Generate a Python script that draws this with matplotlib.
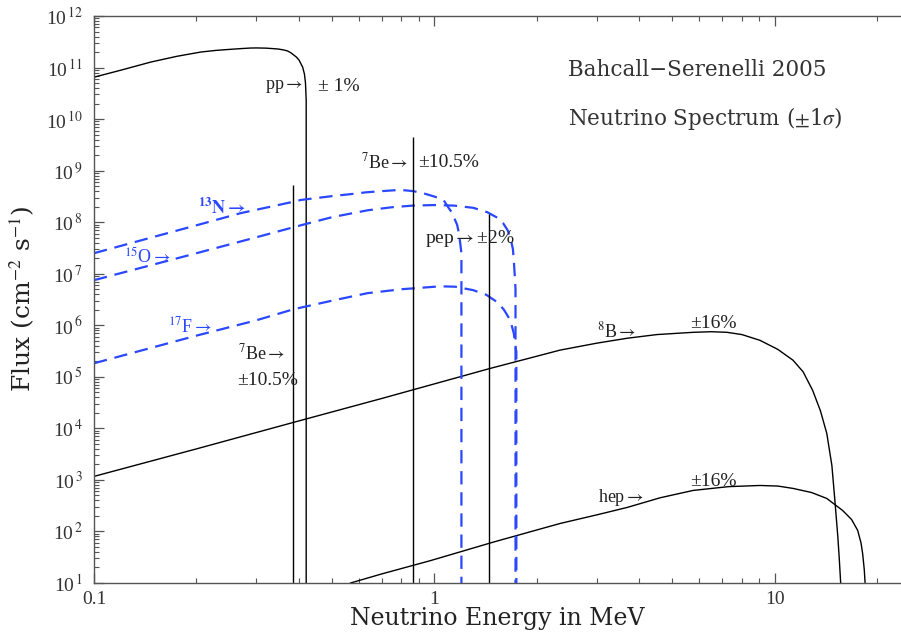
import math
import matplotlib
matplotlib.use('Agg')
import matplotlib.pyplot as plt
from matplotlib.ticker import LogLocator, FixedLocator, FuncFormatter, NullFormatter

plt.rcParams['font.family'] = ['Liberation Serif', 'DejaVu Serif']
plt.rcParams['mathtext.fontset'] = 'stix'

# spectra (MeV, cm^-2 s^-1)
pp_E = [0.1, 0.12, 0.147, 0.175, 0.206, 0.228, 0.25, 0.27, 0.288, 0.30, 0.32, 0.335, 0.347,
        0.36, 0.37, 0.378, 0.386, 0.393, 0.40, 0.410, 0.415, 0.418, 0.420, 0.420]
pp_flux = [6.5e10, 8.9e10, 1.28e11, 1.65e11, 2.0e11, 2.15e11, 2.25e11, 2.33e11, 2.39e11, 2.40e11,
           2.38e11, 2.33e11, 2.29e11, 2.2e11, 2.1e11, 1.95e11, 1.75e11, 1.6e11, 1.4e11, 1.02e11,
           7.5e10, 5.0e10, 2.3e10, 10]

n13_E = [0.1, 0.15, 0.2, 0.27, 0.386, 0.405, 0.5, 0.567, 0.63, 0.7, 0.778, 0.82, 0.866, 0.92,
         0.99, 1.03, 1.063, 1.10, 1.12, 1.14, 1.165, 1.18, 1.19, 1.2, 1.2]
n13_flux = [2.5e7, 5.2e7, 8.7e7, 1.5e8, 2.5e8, 2.7e8, 3.2e8, 3.5e8, 3.8e8, 4.0e8, 4.2e8, 4.15e8,
            4.0e8, 3.7e8, 3.2e8, 2.95e8, 2.7e8, 1.9e8, 1.6e8, 1.25e8, 9e7, 6.1e7, 4e7, 2.5e7, 10]

o15_E = [0.1, 0.2, 0.3, 0.386, 0.405, 0.5, 0.636, 0.75, 0.866, 1.0, 1.14, 1.3, 1.43, 1.52,
         1.59, 1.64, 1.67, 1.70, 1.71, 1.72, 1.73, 1.73]
o15_flux = [7.5e6, 2.5e7, 5.1e7, 8.0e7, 8.7e7, 1.25e8, 1.7e8, 1.95e8, 2.1e8, 2.15e8, 2.1e8,
            1.9e8, 1.56e8, 1.25e8, 9.6e7, 7e7, 5.1e7, 3e7, 1.8e7, 1e7, 5e6, 10]

f17_E = [0.1, 0.2, 0.3, 0.386, 0.5, 0.636, 0.8, 1.04, 1.15, 1.30, 1.42, 1.53, 1.60, 1.67,
         1.71, 1.725, 1.74, 1.74]
f17_flux = [1.83e5, 6.3e5, 1.25e6, 2.05e6, 3.0e6, 4.2e6, 5.0e6, 5.7e6, 5.6e6, 4.8e6, 3.9e6,
            2.8e6, 2.0e6, 1.25e6, 7e5, 4.5e5, 3e5, 10]

b8_E = [0.1, 0.2, 0.386, 0.7, 1.0, 1.46, 1.9, 2.34, 3.0, 3.68, 4.5, 5.75, 6.5, 7.23, 8.0, 9.04,
        10.2, 11.3, 12.1, 12.9, 13.6, 14.2, 14.7, 15.0, 15.3, 15.45, 15.6]
b8_flux = [1.17e3, 4.0e3, 1.31e4, 3.8e4, 7.3e4, 1.46e5, 2.3e5, 3.3e5, 4.5e5, 5.6e5, 6.6e5, 7.3e5,
           7.5e5, 7.3e5, 6.6e5, 5.1e5, 3.4e5, 2.1e5, 1.25e5, 5.5e4, 2.2e4, 8e3, 1.9e3, 400, 80, 30, 10]

hep_E = [0.567, 0.7, 0.97, 1.5, 2.34, 3.0, 3.68, 4.6, 5.75, 7.3, 9.04, 10.2, 11.3, 12.8, 14.2,
         15.8, 16.8, 17.5, 17.9, 18.1, 18.3, 18.4]
hep_flux = [10, 15, 27, 63, 143, 210, 292, 450, 625, 740, 780, 760, 684, 570, 437, 256, 170,
            105, 60, 37, 18, 10]

# monoenergetic lines: 7Be (0.384), 7Be (0.862), pep
line_E = [0.384, 0.862, 1.442]
line_flux = [5.2e8, 4.5e9, 1.43e8]

y_decades = [10.0 ** k for k in range(1, 13)]
x_labelled = [0.1, 1, 10]

blue = '#2a48ff'
tc = '#222222'
wide = ['DejaVu Serif']

fig = plt.figure(figsize=(9.01, 6.35), dpi=100)
ax = fig.add_axes([94/901, 1-583/635, 806/901, 567/635])

ax.plot(pp_E, pp_flux, color='black', lw=1.0)
ax.plot(b8_E, b8_flux, color='black', lw=1.0)
ax.plot(hep_E, hep_flux, color='black', lw=1.0)
for E, f in [(n13_E, n13_flux), (o15_E, o15_flux), (f17_E, f17_flux)]:
    ax.plot(E, f, color=blue, lw=1.6, dashes=(6, 3.5))
ax.vlines(line_E, 10, line_flux, color='black', lw=1.0)

ax.set_xscale('log')
ax.set_yscale('log')
ax.set_xlim(0.1, 23.3)
ax.set_ylim(10, 1e12)

ax.spines['right'].set_visible(False)
ax.xaxis.set_major_locator(FixedLocator(x_labelled))
ax.xaxis.set_major_formatter(FuncFormatter(lambda v, p: '%g' % v))
ax.xaxis.set_minor_locator(LogLocator(base=10, subs=range(2, 10)))
ax.xaxis.set_minor_formatter(NullFormatter())
ax.yaxis.set_major_locator(FixedLocator(y_decades))
ax.yaxis.set_major_formatter(FuncFormatter(
    lambda v, p: r'$\mathregular{10}^{\,%d}$' % round(math.log10(v))))
ax.yaxis.set_minor_locator(LogLocator(base=10, subs=range(2, 10), numticks=20))
ax.yaxis.set_minor_formatter(NullFormatter())
ax.tick_params(which='both', direction='in', top=True, right=False, color='#555555')
ax.tick_params(which='major', length=7, width=0.9, labelsize=14, labelcolor='#333333')
ax.tick_params(which='minor', length=3.5, width=0.8)
ax.tick_params(axis='y', which='major', pad=8)
ax.tick_params(axis='x', which='major', pad=6)
for s in ['left', 'bottom', 'top']:
    ax.spines[s].set_color('#555555')
    ax.spines[s].set_linewidth(1.0)

ax.set_xlabel('Neutrino Energy in MeV', fontsize=17, family=wide, color=tc, va='baseline')
ax.xaxis.set_label_coords(0.5, -(625 - 583) / 567)
ax.set_ylabel(r'Flux (cm$^{-2}$ s$^{-1}$)', fontsize=18, family=wide, color=tc, va='center')
ax.yaxis.set_label_coords(-(94 - 22) / 806, 0.5)

fs = 13
ax.text(0.41, 4.2e10, r'pp$\rightarrow$', ha='right', va='center', fontsize=fs, color=tc)
ax.text(0.454, 4.2e10, '\u00b1 1%', ha='left', va='center', fontsize=14, color=tc)
ax.text(0.839, 1.46e9, r'$^{7}$Be$\rightarrow$', ha='right', va='center', fontsize=fs, color=tc)
ax.text(0.898, 1.46e9, '\u00b110.5%', ha='left', va='center', fontsize=14, color=tc)
ax.text(0.264, 2.86e5, r'$^{7}$Be$\rightarrow$', ha='left', va='center', fontsize=fs, color=tc)
ax.text(0.264, 8.6e4, '\u00b110.5%', ha='left', va='center', fontsize=14, color=tc)
ax.text(0.941, 4.9e7, r'pep$\rightarrow$' + '\u00b12%', ha='left', va='center', fontsize=14, color=tc)
ax.text(3.0, 7.6e5, r'$^{8}$B$\rightarrow$', ha='left', va='center', fontsize=fs, color=tc)
ax.text(5.63, 1.1e6, '\u00b116%', ha='left', va='center', fontsize=14, color=tc)
ax.text(3.03, 457, r'hep$\rightarrow$', ha='left', va='center', fontsize=fs, color=tc)
ax.text(5.63, 935, '\u00b116%', ha='left', va='center', fontsize=14, color=tc)
ax.text(0.202, 1.87e8, r'$\mathbf{^{13}N\rightarrow}$', ha='left', va='center', fontsize=fs, color=blue)
ax.text(0.1225, 2.09e7, r'$^{15}$O$\rightarrow$', ha='left', va='center', fontsize=fs, color=blue)
ax.text(0.165, 9.5e5, r'$^{17}$F$\rightarrow$', ha='left', va='center', fontsize=fs, color=blue)

ax.text(0.749, 1 - 54/567, 'Bahcall\u2212Serenelli 2005', transform=ax.transAxes,
        ha='center', va='center', fontsize=15.5, family=wide, color='#333333')
ax.text(0.758, 1 - 102/567, r'Neutrino Spectrum ($\pm$1$\sigma$)', transform=ax.transAxes,
        ha='center', va='center', fontsize=15.5, family=wide, color='#333333')

fig.savefig('out.png', dpi=100)
